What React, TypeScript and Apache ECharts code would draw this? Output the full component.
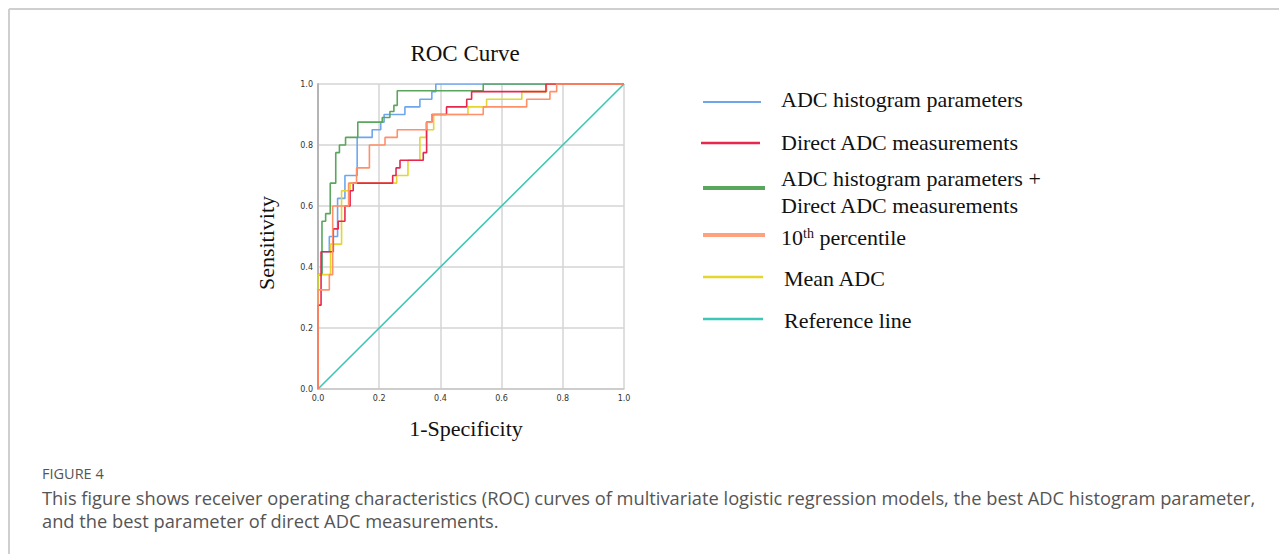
import React, { useEffect, useRef } from "react";
import * as echarts from "echarts";

const TITLE = "ROC Curve";
const X_NAME = "1-Specificity";
const Y_NAME = "Sensitivity";

const SERIES_NAMES = [
  "ADC histogram parameters",
  "Direct ADC measurements",
  "ADC histogram parameters + Direct ADC measurements",
  "10th percentile",
  "Mean ADC",
  "Reference line",
];
const COLORS = ["#6ea6ee", "#e8274f", "#5aa65c", "#ff9068", "#e4d62c", "#3ec7b7"];

const histogramPts: number[][] = [
  [0, 0], [0, 0.375], [0.013, 0.375], [0.013, 0.45], [0.037, 0.45], [0.037, 0.5],
  [0.064, 0.5], [0.064, 0.625], [0.088, 0.625], [0.088, 0.7], [0.128, 0.7],
  [0.128, 0.825], [0.177, 0.825], [0.177, 0.85], [0.205, 0.85], [0.205, 0.875],
  [0.216, 0.875], [0.216, 0.9], [0.284, 0.9], [0.284, 0.925], [0.333, 0.925],
  [0.333, 0.95], [0.372, 0.95], [0.372, 0.975], [0.385, 0.975], [0.385, 1], [1, 1],
];
const directPts: number[][] = [
  [0, 0], [0, 0.275], [0.01, 0.275], [0.01, 0.45], [0.05, 0.45], [0.05, 0.525],
  [0.066, 0.525], [0.066, 0.55], [0.088, 0.55], [0.088, 0.6], [0.105, 0.6],
  [0.105, 0.65], [0.115, 0.65], [0.115, 0.675], [0.244, 0.675], [0.244, 0.7],
  [0.255, 0.7], [0.255, 0.725], [0.268, 0.725], [0.268, 0.75], [0.344, 0.75],
  [0.344, 0.775], [0.355, 0.775], [0.355, 0.875], [0.372, 0.875], [0.372, 0.9],
  [0.42, 0.9], [0.42, 0.925], [0.486, 0.925], [0.486, 0.95], [0.502, 0.95],
  [0.502, 0.975], [0.745, 0.975], [0.745, 1], [1, 1],
];
const combinedPts: number[][] = [
  [0, 0], [0, 0.375], [0.013, 0.375], [0.013, 0.55], [0.025, 0.55], [0.025, 0.575],
  [0.04, 0.575], [0.04, 0.675], [0.058, 0.675], [0.058, 0.775], [0.07, 0.775],
  [0.07, 0.8], [0.09, 0.8], [0.09, 0.825], [0.13, 0.825], [0.13, 0.875],
  [0.21, 0.875], [0.21, 0.89], [0.235, 0.89], [0.235, 0.91], [0.248, 0.91],
  [0.248, 0.93], [0.259, 0.93], [0.259, 0.978], [0.54, 0.978], [0.54, 1], [1, 1],
];
const percentile10Pts: number[][] = [
  [0, 0], [0, 0.325], [0.037, 0.325], [0.037, 0.375], [0.048, 0.375], [0.048, 0.6],
  [0.1, 0.6], [0.1, 0.675], [0.126, 0.675], [0.126, 0.725], [0.168, 0.725],
  [0.168, 0.8], [0.219, 0.8], [0.219, 0.825], [0.259, 0.825], [0.259, 0.85],
  [0.354, 0.85], [0.354, 0.875], [0.372, 0.875], [0.372, 0.9], [0.54, 0.9],
  [0.54, 0.925], [0.682, 0.925], [0.682, 0.95], [0.758, 0.95], [0.758, 0.975],
  [0.78, 0.975], [0.78, 1], [1, 1],
];
const meanPts: number[][] = [
  [0, 0], [0, 0.375], [0.041, 0.375], [0.041, 0.475], [0.077, 0.475], [0.077, 0.65],
  [0.105, 0.65], [0.105, 0.675], [0.257, 0.675], [0.257, 0.7], [0.294, 0.7],
  [0.294, 0.75], [0.333, 0.75], [0.333, 0.825], [0.354, 0.825], [0.354, 0.85],
  [0.378, 0.85], [0.378, 0.9], [0.49, 0.9], [0.49, 0.925], [0.551, 0.925],
  [0.551, 0.95], [0.666, 0.95], [0.666, 0.975], [0.747, 0.975], [0.747, 1], [1, 1],
];
const referencePts: number[][] = [[0, 0], [1, 1]];

const CAPTION_LABEL = "FIGURE 4";
const CAPTION_LINES = [
  "This figure shows receiver operating characteristics (ROC) curves of multivariate logistic regression models, the best ADC histogram parameter,",
  "and the best parameter of direct ADC measurements.",
];

const SERIF = "'Liberation Serif', 'Times New Roman', serif";
const SANS = "'Open Sans', 'Noto Sans', sans-serif";

export default function App() {
  const ref = useRef<HTMLDivElement>(null);

  useEffect(() => {
    if (!ref.current) return;
    const chart = echarts.init(ref.current, undefined, { renderer: "svg" });

    const dataSets = [histogramPts, directPts, combinedPts, percentile10Pts, meanPts, referencePts];
    const drawOrder = [5, 0, 2, 4, 1, 3];
    const series = drawOrder.map((i) => ({
      name: SERIES_NAMES[i],
      type: "line",
      data: dataSets[i],
      showSymbol: false,
      symbol: "none",
      lineStyle: { color: COLORS[i], width: 1.6 },
      itemStyle: { color: COLORS[i] },
      z: 2,
    }));

    const legendRows = [
      { idx: 0, ly: 102, x1: 703, x2: 761, w: 1.8, texts: [{ t: SERIES_NAMES[0], y: 99 }], tx: 781 },
      { idx: 1, ly: 143, x1: 701, x2: 760, w: 2.6, texts: [{ t: "Direct ADC measurements", y: 142 }], tx: 781 },
      {
        idx: 2, ly: 188, x1: 703, x2: 765, w: 4,
        texts: [{ t: "ADC histogram parameters +", y: 178 }, { t: "Direct ADC measurements", y: 205 }], tx: 781,
      },
      { idx: 3, ly: 235, x1: 703, x2: 765, w: 4, texts: [], tx: 781 },
      { idx: 4, ly: 277, x1: 703, x2: 763, w: 2.6, texts: [{ t: "Mean ADC", y: 278 }], tx: 784 },
      { idx: 5, ly: 319, x1: 703, x2: 763, w: 2.6, texts: [{ t: "Reference line", y: 320 }], tx: 784 },
    ];

    const graphic: any[] = [
      { type: "line", shape: { x1: 9, y1: 9, x2: 1279, y2: 9 }, style: { stroke: "#cfcfcf", lineWidth: 2 } },
      { type: "line", shape: { x1: 9, y1: 9, x2: 9, y2: 554 }, style: { stroke: "#cfcfcf", lineWidth: 2 } },
    ];
    legendRows.forEach((r) => {
      graphic.push({
        type: "line",
        shape: { x1: r.x1, y1: r.ly, x2: r.x2, y2: r.ly },
        style: { stroke: COLORS[r.idx], lineWidth: r.w, opacity: r.idx === 3 ? 0.85 : 1 },
      });
      r.texts.forEach((tt) => {
        graphic.push({
          type: "text",
          x: r.tx,
          y: tt.y,
          style: { text: tt.t, fill: "#111", font: `22px ${SERIF}`, verticalAlign: "middle", align: "left" },
        });
      });
    });
    graphic.push({
      type: "text",
      x: 781,
      y: 237,
      style: {
        text: "{n|10}{s|th}{n| percentile}",
        verticalAlign: "middle",
        align: "left",
        rich: {
          n: { fontSize: 22, fontFamily: SERIF, fill: "#111", color: "#111", verticalAlign: "bottom" },
          s: { fontSize: 14, fontFamily: SERIF, fill: "#111", color: "#111", verticalAlign: "top" },
        },
      },
    });
    graphic.push({
      type: "text",
      x: 42,
      y: 473,
      style: { text: CAPTION_LABEL, fill: "#555", font: `14.5px ${SANS}`, verticalAlign: "middle" },
    });
    CAPTION_LINES.forEach((line, i) => {
      graphic.push({
        type: "text",
        x: 42,
        y: 497 + i * 23,
        style: { text: line, fill: "#555", font: `18.3px ${SANS}`, verticalAlign: "middle" },
      });
    });
    graphic.push({
      type: "text",
      x: 465,
      y: 53,
      style: {
        text: TITLE, fill: "#111", font: `23px ${SERIF}`, align: "center", verticalAlign: "middle",
      },
    });
    graphic.push({
      type: "text",
      x: 466,
      y: 428,
      style: {
        text: X_NAME, fill: "#111", font: `22px ${SERIF}`, align: "center", verticalAlign: "middle",
      },
    });
    graphic.push({
      type: "text",
      x: 266,
      y: 243,
      rotation: Math.PI / 2,
      style: {
        text: Y_NAME, fill: "#111", font: `22px ${SERIF}`, align: "center", verticalAlign: "middle",
      },
    });

    chart.setOption({
      animation: false,
      backgroundColor: "#fff",
      grid: { left: 318, right: 655, top: 84, bottom: 165, containLabel: false },
      xAxis: {
        type: "value",
        min: 0,
        max: 1,
        interval: 0.2,
        axisLine: { show: true, lineStyle: { color: "#c8c8c8", width: 1.5 } },
        axisTick: { show: false },
        axisLabel: {
          fontSize: 8,
          color: "#333",
          fontFamily: "'DejaVu Sans', sans-serif",
          margin: 5,
          formatter: (v: number) => v.toFixed(1),
        },
        splitLine: { show: true, lineStyle: { color: "#d4d4d4", width: 1.5 } },
      },
      yAxis: {
        type: "value",
        min: 0,
        max: 1,
        interval: 0.2,
        axisLine: { show: true, lineStyle: { color: "#b5b5b5", width: 2 } },
        axisTick: { show: false },
        axisLabel: {
          fontSize: 8,
          color: "#333",
          fontFamily: "'DejaVu Sans', sans-serif",
          margin: 5,
          formatter: (v: number) => v.toFixed(1),
        },
        splitLine: { show: true, lineStyle: { color: "#d4d4d4", width: 1.5 } },
      },
      series,
      graphic,
    });

    return () => chart.dispose();
  }, []);

  return (
    <div
      ref={ref}
      style={{ position: "fixed", left: 0, top: 0, width: 1279, height: 554, background: "#fff" }}
    />
  );
}
